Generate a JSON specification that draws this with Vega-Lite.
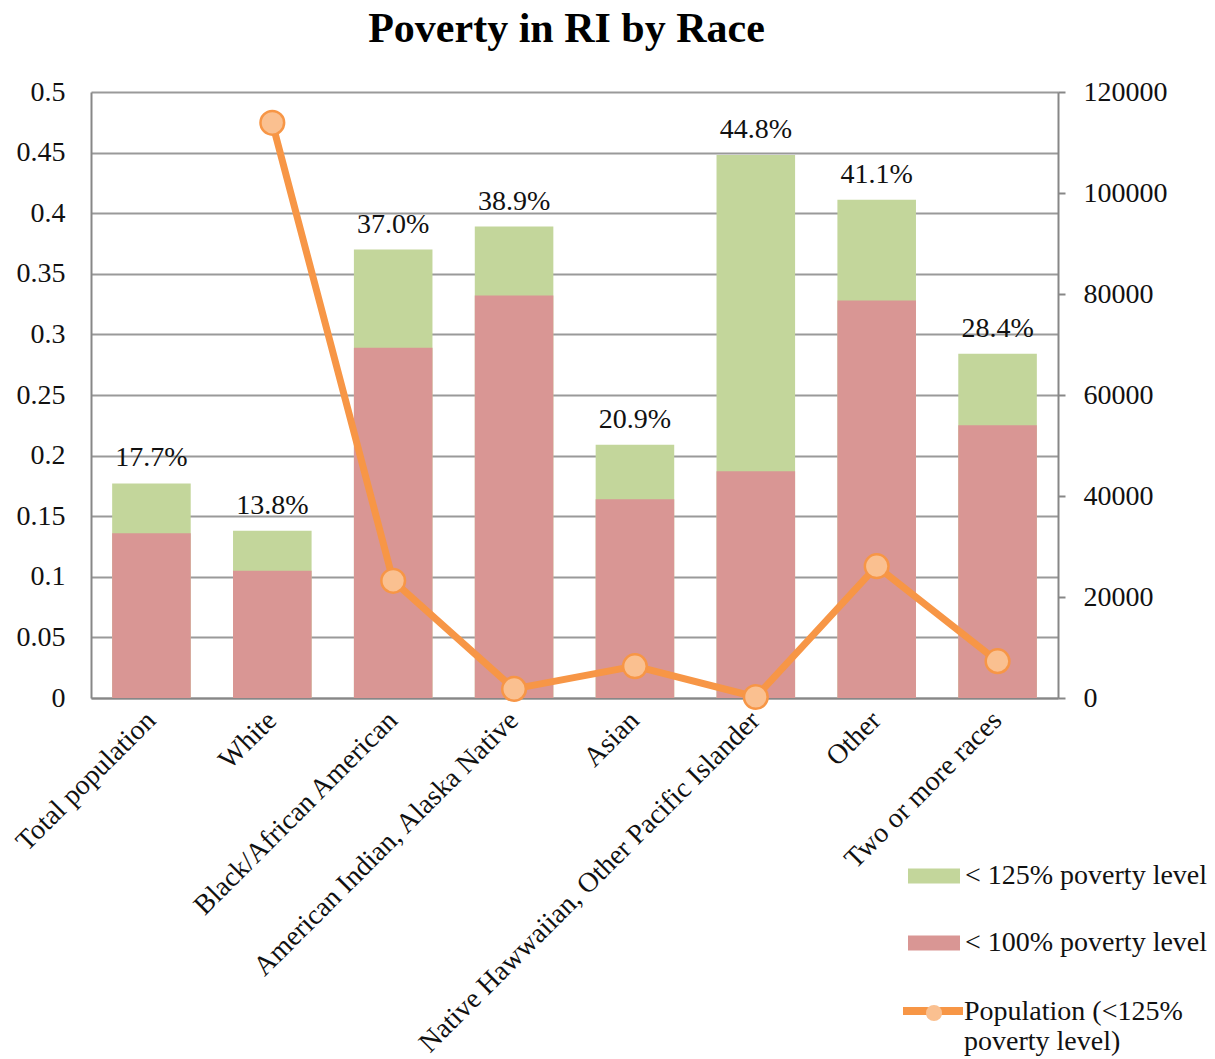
{
  "$schema": "https://vega.github.io/schema/vega-lite/v6.json",
  "width": 967,
  "height": 606,
  "autosize": {"type": "none"},
  "padding": {"left": 91, "top": 92, "right": 157, "bottom": 361},
  "background": "white",
  "config": {
    "view": {"stroke": null},
    "font": "Liberation Serif",
    "axis": {"labelFont": "Liberation Serif", "labelFontSize": 28, "labelColor": "#111", "domainColor": "#878787", "domainWidth": 2, "tickColor": "#878787", "tickWidth": 2, "gridColor": "#9a9a9a", "gridWidth": 2, "title": null},
    "legend": {"labelFont": "Liberation Serif", "labelFontSize": 28, "labelColor": "#111", "padding": 0, "title": null}
  },
  "title": {"text": "Poverty in RI by Race", "font": "Liberation Serif", "fontSize": 42, "fontWeight": "bold", "color": "#000", "anchor": "middle", "baseline": "alphabetic", "offset": -6, "dx": -8},
  "data": {"values": [
    {"race": "Total population", "below100": 0.136, "below125": 0.177, "population": null},
    {"race": "White", "below100": 0.105, "below125": 0.138, "population": 113900},
    {"race": "Black/African American", "below100": 0.289, "below125": 0.370, "population": 23200},
    {"race": "American Indian, Alaska Native", "below100": 0.332, "below125": 0.389, "population": 1800},
    {"race": "Asian", "below100": 0.164, "below125": 0.209, "population": 6300},
    {"race": "Native Hawwaiian, Other Pacific Islander", "below100": 0.187, "below125": 0.448, "population": 200},
    {"race": "Other", "below100": 0.328, "below125": 0.411, "population": 26100},
    {"race": "Two or more races", "below100": 0.225, "below125": 0.284, "population": 7300}
  ]},
  "encoding": {
    "x": {"field": "race", "type": "nominal", "sort": null,
      "scale": {"paddingInner": 0.35, "paddingOuter": 0.175},
      "axis": {"labelAngle": -45, "labelAlign": "right", "labelBaseline": "middle", "labelPadding": 18, "ticks": false, "labelLimit": 1000, "domain": true}}
  },
  "layer": [
    {
      "layer": [
        {
          "mark": {"type": "bar"},
          "encoding": {
            "y": {"field": "below125", "type": "quantitative", "scale": {"domain": [0, 0.5]},
              "axis": {"values": [0, 0.05, 0.1, 0.15, 0.2, 0.25, 0.3, 0.35, 0.4, 0.45, 0.5], "format": ".2~f", "ticks": false, "labelPadding": 26, "grid": true, "domain": true}},
            "fill": {"datum": "< 125% poverty level", "type": "nominal",
              "scale": {"domain": ["< 125% poverty level", "< 100% poverty level"], "range": ["#C3D69B", "#D99694"]},
              "legend": {"orient": "none", "legendX": 817, "legendY": 758, "direction": "vertical", "symbolType": "M-1,-0.29H1V0.29H-1Z", "symbolSize": 2704, "symbolStrokeWidth": 0, "labelOffset": 5, "rowPadding": 27, "labelLimit": 400}}
          }
        },
        {
          "mark": {"type": "bar"},
          "encoding": {
            "y": {"field": "below100", "type": "quantitative", "scale": {"domain": [0, 0.5]},
              "axis": {"values": [0, 0.05, 0.1, 0.15, 0.2, 0.25, 0.3, 0.35, 0.4, 0.45, 0.5], "format": ".2~f", "ticks": false, "labelPadding": 26, "grid": true, "domain": true}},
            "fill": {"datum": "< 100% poverty level", "type": "nominal"}
          }
        },
        {
          "mark": {"type": "text", "fontSize": 28, "font": "Liberation Serif", "color": "#111", "baseline": "alphabetic", "dy": -17},
          "encoding": {
            "y": {"field": "below125", "type": "quantitative", "scale": {"domain": [0, 0.5]},
              "axis": {"values": [0, 0.05, 0.1, 0.15, 0.2, 0.25, 0.3, 0.35, 0.4, 0.45, 0.5], "format": ".2~f", "ticks": false, "labelPadding": 26, "grid": true, "domain": true}},
            "text": {"field": "below125", "type": "quantitative", "format": ".1%"}
          }
        }
      ]
    },
    {
      "layer": [
        {
          "mark": {"type": "line", "strokeWidth": 7, "strokeCap": "round", "strokeJoin": "round"},
          "encoding": {
            "y": {"field": "population", "type": "quantitative", "scale": {"domain": [0, 120000]},
              "axis": {"orient": "right", "values": [0, 20000, 40000, 60000, 80000, 100000, 120000], "format": "d", "grid": false, "ticks": true, "tickSize": 7, "labelPadding": 18, "domain": true}},
            "stroke": {"datum": "Population (<125% poverty level)", "type": "nominal",
              "scale": {"range": ["#F79646"]},
              "legend": {"orient": "none", "legendX": 808, "legendY": 894, "zindex": 1, "symbolType": "M-1,-0.3H1", "symbolSize": 3600, "symbolStrokeWidth": 8, "labelOffset": -3, "labelBaseline": "alphabetic", "labelLimit": 400,
                "labelExpr": "datum.label == 'Population (<125% poverty level)' ? ['Population (<125%', 'poverty level)'] : datum.label"}}
          }
        },
        {
          "mark": {"type": "point", "filled": true, "size": 560, "fill": "#FAC090", "stroke": "#F79646", "strokeWidth": 2.5, "opacity": 1},
          "encoding": {
            "y": {"field": "population", "type": "quantitative", "scale": {"domain": [0, 120000]},
              "axis": {"orient": "right", "values": [0, 20000, 40000, 60000, 80000, 100000, 120000], "format": "d", "grid": false, "ticks": true, "tickSize": 7, "labelPadding": 18, "domain": true}},
            "shape": {"datum": "pop", "type": "nominal", "scale": {"range": ["circle"]},
              "legend": {"orient": "none", "legendX": 829, "legendY": 907, "zindex": 2, "symbolSize": 260, "symbolFillColor": "#FAC090", "symbolStrokeColor": "#F79646", "symbolStrokeWidth": 2, "labelExpr": "''"}}
          }
        }
      ]
    }
  ],
  "resolve": {"scale": {"y": "independent"}, "axis": {"y": "independent"}}
}
